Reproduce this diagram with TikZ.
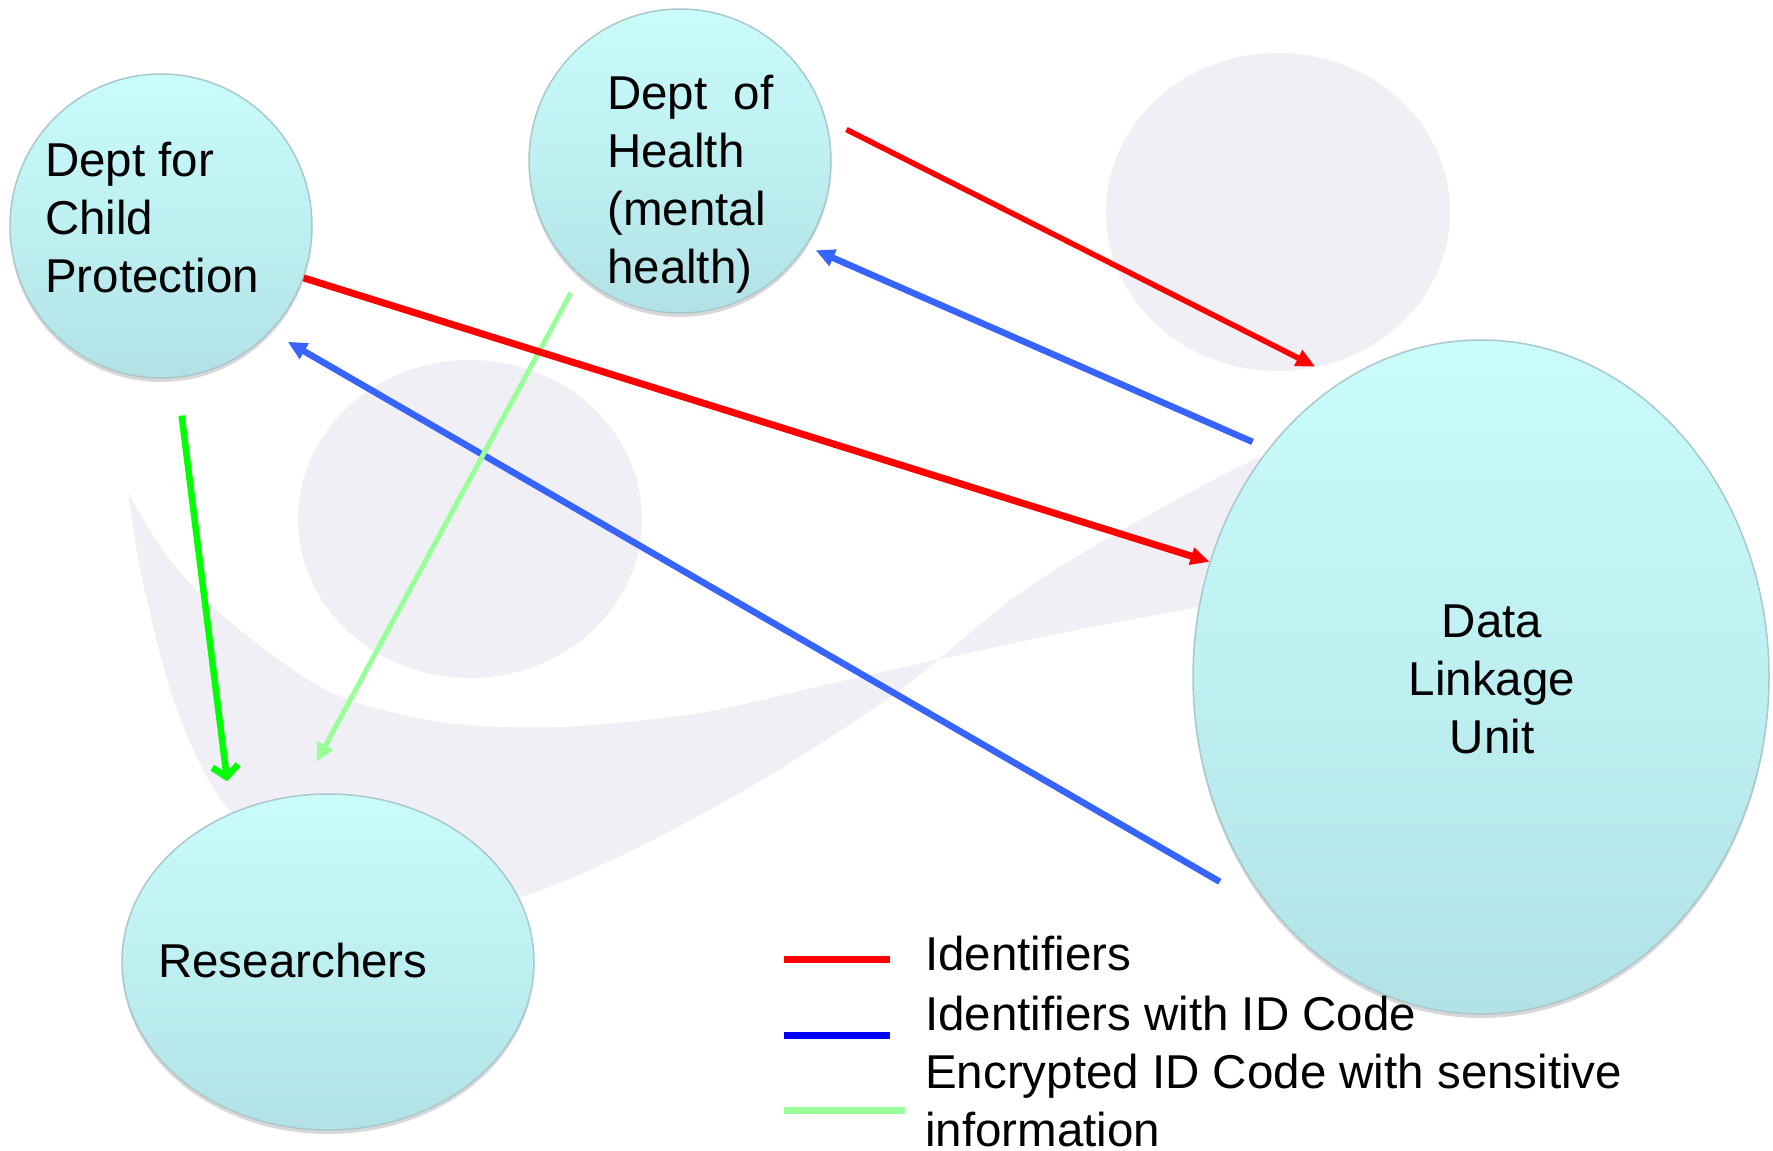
\documentclass[tikz,border=0pt]{standalone}
\usepackage{fontspec}
\setmainfont{Liberation Sans}
\usetikzlibrary{shapes, arrows.meta, positioning, shadows}

\definecolor{bubbletop}{RGB}{202,252,252}
\definecolor{bubblebot}{RGB}{178,226,230}
\definecolor{bubbleedge}{RGB}{170,200,204}
\definecolor{ghost}{RGB}{241,239,246}
\definecolor{idred}{RGB}{255,0,0}
\definecolor{idblue}{RGB}{55,100,255}
\definecolor{keyblue}{RGB}{0,0,255}
\definecolor{encgreen}{RGB}{153,255,153}
\definecolor{brightgreen}{RGB}{0,255,0}

\begin{document}
\begin{tikzpicture}[x=1pt, y=-1pt, >={Triangle[length=19pt, width=17pt]},
  font=\fontsize{47.5}{58}\selectfont,
  bubble/.style={ellipse, draw=bubbleedge, line width=1.5pt, inner sep=0pt,
    top color=bubbletop, bottom color=bubblebot,
    drop shadow={shadow xshift=0pt, shadow yshift=-4pt, opacity=0.3, fill=gray}},
  txt/.style={inner sep=0pt, align=left},
  keyline/.style={line width=7pt}]

\useasboundingbox (0,0) rectangle (1773,1151);
\fill[white] (0,0) rectangle (1773,1151);

\fill[ghost] (1278,212) ellipse [x radius=172, y radius=159];
\fill[ghost] (470,519) ellipse [x radius=172, y radius=159];
\fill[ghost] plot[smooth] coordinates {(128,493) (143,583) (177,710) (227,807) (320,880) (430,905) (520,897) (633,850) (767,777) (900,690) (1020,593) (1140,520) (1260,457) (1330,440)}
  -- (1330,600) -- plot[smooth] coordinates {(1200,607) (1076,630) (950,657) (833,683) (700,713) (560,727) (440,722) (330,692) (230,622) (170,560) (128,493)} -- cycle;

\node[bubble, minimum width=302pt, minimum height=304pt] (cp) at (161,226) {};
\node[bubble, minimum width=302pt, minimum height=304pt] (doh) at (680,161) {};
\node[bubble, minimum width=412pt, minimum height=336pt] (res) at (328,962) {};
\node[bubble, minimum width=576pt, minimum height=674pt] (dlu) at (1481,677) {};

\node[txt, anchor=west] (cptext) at (45,218) {Dept for\\Child\\Protection};
\node[txt, anchor=west] (dohtext) at (607,184) {Dept~~of\\Health\\(mental\\health)};
\node[txt, anchor=west] (restext) at (158,961) {Researchers};
\node[txt, align=center] (dlutext) at (1492,679) {Data\\Linkage\\Unit};

\draw[->, idblue, line width=6.5pt, shorten <=17pt, shorten >=10.5pt] (dlu.133.4) -- (doh.-34);
\draw[->, idblue, line width=6.5pt, shorten <=64pt, shorten >=20pt] (dlu.229.5) -- (cp.-44.5);
\draw[->, encgreen, line width=5pt, shorten <=19.3pt, shorten >=37.3pt] (doh.229.4) -- (res.100.5);
\draw[-{Straight Barb[length=11pt, width=26pt]}, brightgreen, line width=6.5pt, shorten <=38pt, shorten >=32pt,
  preaction={draw=gray!60, transform canvas={shift={(-2pt,-3pt)}}}] (cp.-84.9) -- (res.123.2);
\draw[->, idred, line width=7pt] (cp.-20.6) -- (dlu.157.8);
\draw[->, idred, line width=5.5pt, shorten <=23pt, shorten >=31pt] (doh.16.7) -- (dlu.115.5);

\draw[keyline, idred] (784,959) -- (890,959);
\draw[keyline, keyblue] (784,1035) -- (890,1035);
\draw[keyline, encgreen] (784,1110) -- (905,1110);

\node[txt, anchor=base west] (key1) at (925,970) {Identifiers};
\node[txt, anchor=base west] (key2) at (925,1030) {Identifiers with ID Code};
\node[txt, anchor=north west] (key3) at (925,1054) {Encrypted ID Code with sensitive\\information};

\end{tikzpicture}
\end{document}
